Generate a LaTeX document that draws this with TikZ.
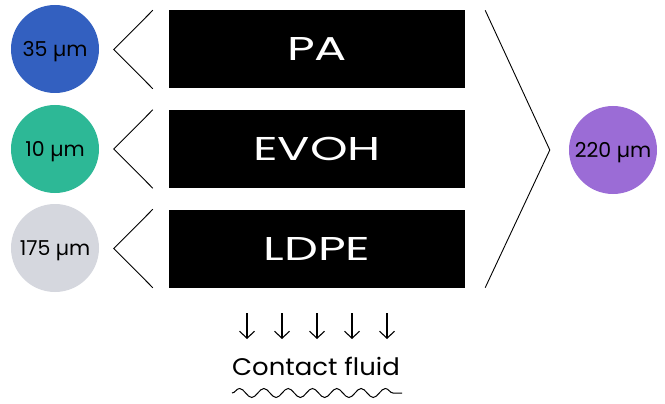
\documentclass[tikz,border=0pt]{standalone}
\usepackage{fontspec}
\setmainfont{Poppins}
\newfontfamily\widefont[FakeStretch=1.45]{Poppins}
\newfontfamily\fluidfont[FakeStretch=1.08]{Poppins}
\usetikzlibrary{positioning,decorations.pathmorphing,arrows.meta}

\definecolor{pablue}{HTML}{3360C0}
\definecolor{evohgreen}{HTML}{2DB896}
\definecolor{ldpegray}{HTML}{D5D7DE}
\definecolor{totalpurple}{HTML}{9B6CD6}

\begin{document}
\begin{tikzpicture}[x=1pt,y=-1pt,
    layer/.style={fill=black, text=white, minimum width=296pt, minimum height=78pt, inner sep=0pt,
        font=\widefont\fontsize{33}{33}\selectfont},
    dot/.style={circle, minimum size=88pt, inner sep=0pt, text depth=0pt, font=\fontsize{20.5}{20.5}\selectfont},
    brace/.style={black, line width=0.9pt}]
        \useasboundingbox (0,0) rectangle (665,404);

        % Layers.
        \node[layer] (pa) at (317,49.5) {PA};
        \node[layer] (evoh) at (317,149) {EVOH};
        \node[layer] (ldpe) at (317,248.5) {LDPE};

        % Thicknesses.
        \node[dot, fill=pablue] (pat) at (55,49) {35 µm};
        \node[dot, fill=evohgreen] (evoht) at (55,149) {10 µm};
        \node[dot, fill=ldpegray] (ldpet) at (55,248) {175 µm};
        \node[dot, fill=totalpurple] (total) at (613,150) {220 µm};

        % Chevrons.
        \foreach \l in {pa, evoh, ldpe} {
            \draw[brace] ([xshift=-16pt]\l.north west) -- ([xshift=-55pt]\l.west) -- ([xshift=-16pt]\l.south west);
        }
        \draw[brace] ([xshift=20pt]pa.north east) -- ([xshift=-19pt]total.west) -- ([xshift=20pt]ldpe.south east);

        % Contact fluid.
        \foreach \i in {0,...,4} {
            \draw[line width=1.1pt, -{Straight Barb[length=7pt,width=15pt]}] (247+35*\i,313) -- (247+35*\i,339);
        }
        \node[font=\fluidfont\fontsize{24}{24}\selectfont] (fluid) at (316,366) {Contact fluid};
        \draw[line width=1pt, decorate, decoration={snake, segment length=24.3pt, amplitude=4.5pt}] (232,393) -- (402,393);

    \end{tikzpicture}
\end{document}
